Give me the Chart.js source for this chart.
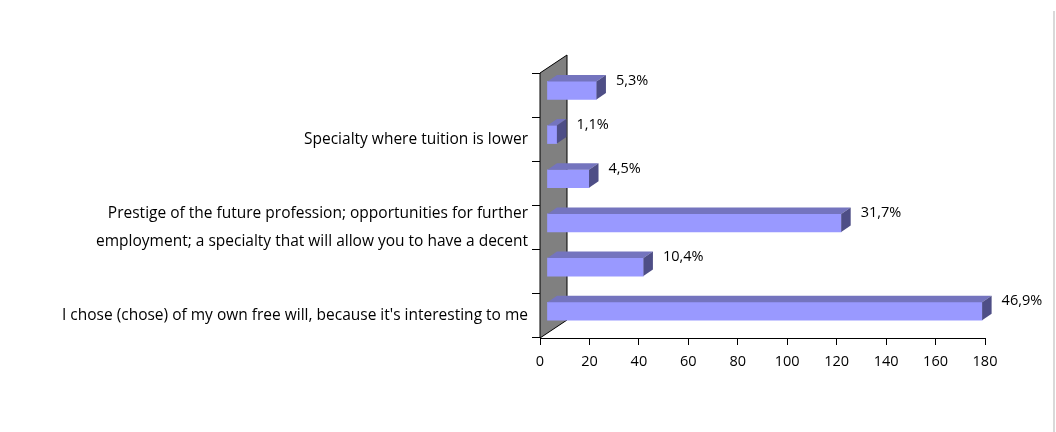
<!DOCTYPE html>
<html>
<head>
<meta charset="utf-8">
<script src="https://cdn.jsdelivr.net/npm/chart.js@4/dist/chart.umd.min.js"></script>
<style>
  html, body { margin: 0; padding: 0; background: #ffffff; }
  canvas { display: block; }
</style>
</head>
<body>
<canvas id="c" width="1056" height="432"></canvas>
<script>
// Categories, listed top to bottom (every other label is hidden in the original)
const categories = [
  '',
  'Specialty where tuition is lower',
  '',
  ['Prestige of the future profession; opportunities for further', 'employment; a specialty that will allow you to have a decent'],
  '',
  "I chose (chose) of my own free will, because it's interesting to me"
];
// Number of respondents, same order
const counts = [20, 4, 17, 119, 39, 176];
// Percentage labels shown at bar ends
const percentLabels = ['5,3%', '1,1%', '4,5%', '31,7%', '10,4%', '46,9%'];
// Value axis ticks
const xTicks = [0, 20, 40, 60, 80, 100, 120, 140, 160, 180];

const FONT = '"Open Sans", Lato, sans-serif';
const CAT_SIZE = 15.5;
const TICK_SIZE = 14.5;
const DEPTH_X = 27, DEPTH_Y = 18;        // wall depth
const BAR_SHIFT_X = 7, BAR_SHIFT_Y = 4.7; // bars sit a bit inside the depth
const BAR_DX = 9.5, BAR_DY = 6.5;         // bar depth

const threeD = {
  id: 'threeD',
  beforeDatasetsDraw(chart) {
    const { ctx, chartArea: a } = chart;
    ctx.save();
    ctx.beginPath();
    ctx.moveTo(a.left, a.top);
    ctx.lineTo(a.left + DEPTH_X, a.top - DEPTH_Y);
    ctx.lineTo(a.left + DEPTH_X, a.bottom - DEPTH_Y);
    ctx.lineTo(a.left, a.bottom);
    ctx.closePath();
    ctx.fillStyle = '#808080';
    ctx.fill();
    ctx.lineWidth = 1;
    ctx.strokeStyle = '#000000';
    ctx.stroke();
    ctx.restore();
    ctx.save();
    ctx.translate(BAR_SHIFT_X, -BAR_SHIFT_Y);
  },
  afterDatasetsDraw(chart) {
    const { ctx } = chart;
    const meta = chart.getDatasetMeta(0);
    meta.data.forEach((el) => {
      const p = el.getProps(['x', 'y', 'base', 'height'], true);
      const top = p.y - p.height / 2, bot = p.y + p.height / 2;
      ctx.beginPath();
      ctx.moveTo(p.base, top);
      ctx.lineTo(p.base + BAR_DX, top - BAR_DY);
      ctx.lineTo(p.x + BAR_DX, top - BAR_DY);
      ctx.lineTo(p.x, top);
      ctx.closePath();
      ctx.fillStyle = '#7474BE';
      ctx.fill();
      ctx.beginPath();
      ctx.moveTo(p.x, top);
      ctx.lineTo(p.x + BAR_DX, top - BAR_DY);
      ctx.lineTo(p.x + BAR_DX, bot - BAR_DY);
      ctx.lineTo(p.x, bot);
      ctx.closePath();
      ctx.fillStyle = '#4E4E86';
      ctx.fill();
    });
    ctx.restore();
    ctx.save();
    ctx.font = TICK_SIZE + 'px ' + FONT;
    ctx.fillStyle = '#000000';
    ctx.textAlign = 'left';
    ctx.textBaseline = 'middle';
    meta.data.forEach((el, i) => {
      const p = el.getProps(['x', 'y'], true);
      ctx.fillText(percentLabels[i], p.x + BAR_SHIFT_X + BAR_DX + 10, p.y - BAR_SHIFT_Y - 10);
    });
    ctx.restore();
  },
  afterDraw(chart) {
    const { ctx, width, height } = chart;
    ctx.save();
    ctx.fillStyle = '#d9d9d9';
    ctx.fillRect(width - 3, 11, 2, height - 11);
    ctx.restore();
  }
};

new Chart(document.getElementById('c'), {
  type: 'bar',
  data: {
    labels: categories,
    datasets: [{
      data: counts,
      backgroundColor: '#9999FF',
      borderWidth: 0,
      barThickness: 18,
      clip: false
    }]
  },
  plugins: [threeD],
  options: {
    indexAxis: 'y',
    responsive: false,
    animation: false,
    layout: { padding: { top: 73, right: 71, bottom: 0, left: 0 } },
    plugins: {
      legend: { display: false },
      tooltip: { enabled: false }
    },
    scales: {
      x: {
        min: xTicks[0],
        max: xTicks[xTicks.length - 1],
        afterBuildTicks(scale) { scale.ticks = xTicks.map(v => ({ value: v })); },
        afterFit(scale) { scale.height = 94; },
        grid: { drawOnChartArea: false, drawTicks: true, tickLength: 7, color: '#000000' },
        border: { display: true, color: '#000000', width: 1 },
        ticks: { color: '#000000', font: { family: FONT, size: TICK_SIZE }, padding: 8, maxRotation: 0 }
      },
      y: {
        afterFit(scale) { scale.width = 540; },
        grid: { drawOnChartArea: false, drawTicks: true, tickLength: 8, color: '#000000', offset: true },
        border: { display: true, color: '#000000', width: 1 },
        ticks: { color: '#000000', font: { family: FONT, size: CAT_SIZE, lineHeight: 1.8 }, padding: 4, autoSkip: false }
      }
    }
  }
});
</script>
</body>
</html>
